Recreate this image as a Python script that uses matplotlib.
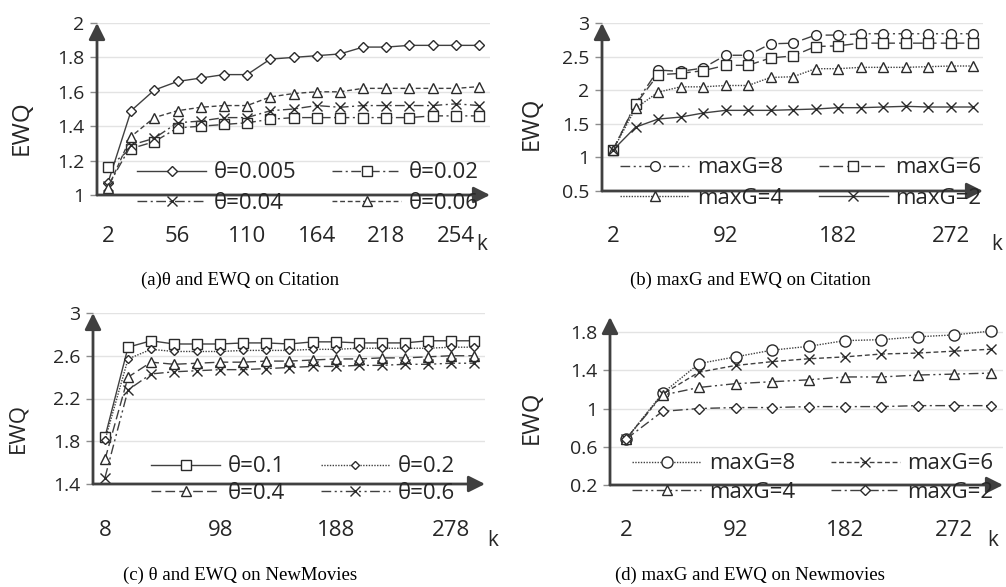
import numpy as np
import matplotlib
matplotlib.use('Agg')
import matplotlib.pyplot as plt

W, H = 1006, 587
SANS = ['Open Sans', 'DejaVu Sans']
SERIF = ['Liberation Serif', 'DejaVu Serif']

# ---------------- data ----------------
# (a) theta and EWQ on Citation (17 points)
a_ticklabels = ['2', '56', '110', '164', '218', '254']
a_labels = ['θ=0.005', 'θ=0.02', 'θ=0.04', 'θ=0.06']
a_t0005 = [1.07, 1.49, 1.61, 1.66, 1.68, 1.70, 1.70, 1.79, 1.80, 1.81, 1.82, 1.86, 1.86, 1.87, 1.87, 1.87, 1.87]
a_t002 = [1.16, 1.27, 1.31, 1.39, 1.40, 1.41, 1.42, 1.44, 1.45, 1.45, 1.45, 1.45, 1.45, 1.45, 1.46, 1.46, 1.46]
a_t004 = [1.05, 1.29, 1.33, 1.42, 1.43, 1.45, 1.45, 1.49, 1.50, 1.52, 1.51, 1.52, 1.52, 1.52, 1.52, 1.53, 1.52]
a_t006 = [1.04, 1.34, 1.45, 1.49, 1.51, 1.52, 1.52, 1.57, 1.59, 1.60, 1.60, 1.62, 1.62, 1.62, 1.62, 1.62, 1.63]

# (b) maxG and EWQ on Citation (17 points)
b_k = [2, 20, 38, 56, 74, 92, 110, 128, 146, 164, 182, 200, 218, 236, 254, 272, 290]
b_ticklabels = ['2', '92', '182', '272']
b_labels = ['maxG=8', 'maxG=6', 'maxG=4', 'maxG=2']
b_g8 = [1.11, 1.80, 2.30, 2.28, 2.33, 2.52, 2.52, 2.69, 2.70, 2.82, 2.82, 2.84, 2.84, 2.84, 2.84, 2.84, 2.84]
b_g6 = [1.11, 1.79, 2.23, 2.25, 2.29, 2.37, 2.37, 2.48, 2.51, 2.65, 2.66, 2.70, 2.70, 2.70, 2.70, 2.70, 2.70]
b_g4 = [1.11, 1.73, 1.97, 2.05, 2.05, 2.07, 2.07, 2.19, 2.20, 2.32, 2.32, 2.34, 2.34, 2.34, 2.35, 2.36, 2.36]
b_g2 = [1.11, 1.45, 1.57, 1.60, 1.66, 1.70, 1.70, 1.70, 1.71, 1.72, 1.74, 1.74, 1.75, 1.76, 1.75, 1.75, 1.75]

# (c) theta and EWQ on NewMovies (17 points)
c_k = [8, 26, 44, 62, 80, 98, 116, 134, 152, 170, 188, 206, 224, 242, 260, 278, 296]
c_ticklabels = ['8', '98', '188', '278']
c_labels = ['θ=0.1', 'θ=0.2', 'θ=0.4', 'θ=0.6']
c_t01 = [1.84, 2.68, 2.74, 2.71, 2.71, 2.71, 2.72, 2.72, 2.71, 2.73, 2.73, 2.72, 2.72, 2.72, 2.74, 2.74, 2.74]
c_t02 = [1.81, 2.57, 2.66, 2.64, 2.64, 2.64, 2.65, 2.65, 2.65, 2.66, 2.66, 2.67, 2.67, 2.67, 2.67, 2.68, 2.68]
c_t04 = [1.63, 2.40, 2.54, 2.52, 2.53, 2.54, 2.54, 2.55, 2.55, 2.56, 2.57, 2.57, 2.58, 2.58, 2.59, 2.60, 2.60]
c_t06 = [1.46, 2.28, 2.43, 2.45, 2.46, 2.47, 2.47, 2.48, 2.49, 2.50, 2.50, 2.51, 2.51, 2.52, 2.52, 2.53, 2.53]

# (d) maxG and EWQ on Newmovies (11 points)
d_k = [2, 32, 62, 92, 122, 152, 182, 212, 242, 272, 302]
d_ticklabels = ['2', '92', '182', '272']
d_labels = ['maxG=8', 'maxG=6', 'maxG=4', 'maxG=2']
d_g8 = [0.68, 1.16, 1.47, 1.54, 1.61, 1.65, 1.71, 1.72, 1.75, 1.77, 1.81]
d_g6 = [0.68, 1.15, 1.38, 1.45, 1.49, 1.52, 1.54, 1.57, 1.58, 1.60, 1.62]
d_g4 = [0.68, 1.14, 1.22, 1.26, 1.28, 1.30, 1.33, 1.33, 1.35, 1.36, 1.37]
d_g2 = [0.68, 0.97, 1.00, 1.01, 1.01, 1.02, 1.02, 1.02, 1.03, 1.03, 1.03]

captions = ['(a)θ and EWQ on Citation', '(b) maxG and EWQ on Citation',
            '(c) θ and EWQ on NewMovies', '(d) maxG and EWQ on Newmovies']

# ---------------- styles ----------------
LC = '#404040'
SOLID = '-'
DASHDOT = (0, (7, 2.5, 1.5, 2.5))
DASHDOTDOT = (0, (7, 2.5, 1.5, 2.5, 1.5, 2.5))
SHORTDASH = (0, (3.5, 2))
DOTTED = (0, (1, 1))
LONGDASH = (0, (7, 3))

fig = plt.figure(figsize=(W / 100, H / 100), dpi=100)


def rect_px(l, r, top, bot):
    return [l / W, 1 - bot / H, (r - l) / W, (bot - top) / H]


def panel(rect, xlim, ylim, yticks, ytl, series, labels, styles, tick_idx, tick_labels,
          tick_pad, leg_c, leg_sp, ylab_xy, ylab_size, k_xy, cap_xy, caption):
    ax = fig.add_axes(rect)
    n = len(series[0])
    x = np.arange(n)
    handles = []
    for ys, lab, (ls, mk, ms) in zip(series, labels, styles):
        h, = ax.plot(x, ys, linestyle=ls, color=LC, lw=1.0, marker=mk, markersize=ms,
                     markerfacecolor='white', markeredgecolor='#2a2a2a', markeredgewidth=1.0,
                     label=lab, zorder=3)
        handles.append(h)
    ax.set_xlim(*xlim)
    ax.set_ylim(*ylim)
    for s in ax.spines.values():
        s.set_visible(False)
    ax.set_yticks(yticks)
    ax.set_yticklabels(ytl, family=SANS, fontsize=14, color='#262626')
    ax.tick_params(axis='y', length=5, width=1, color='#8c8c8c', pad=4)
    for yv in yticks[1:]:
        ax.axhline(yv, color='#e3e3e3', lw=1.0, zorder=1)
    ax.set_xticks(tick_idx)
    ax.set_xticklabels(tick_labels, family=SANS, fontsize=16, color='#262626')
    ax.tick_params(axis='x', length=0, pad=tick_pad)
    ap = dict(arrowstyle='-|>,head_length=0.7,head_width=0.35', color=LC, lw=2.0,
              shrinkA=0, shrinkB=0, mutation_scale=14)
    ax.annotate('', xy=(0, 1.0), xytext=(0, 0), xycoords='axes fraction', arrowprops=ap, zorder=5)
    ax.annotate('', xy=(1.0, 0), xytext=(0, 0), xycoords='axes fraction', arrowprops=ap, zorder=5)
    order = [0, 2, 1, 3]
    leg = ax.legend([handles[i] for i in order], [labels[i] for i in order], ncol=2,
                    loc='center', bbox_to_anchor=(leg_c[0] / W, 1 - leg_c[1] / H),
                    bbox_transform=fig.transFigure, frameon=False,
                    prop=dict(family=SANS, size=16), handlelength=3.1, handletextpad=0.35,
                    columnspacing=1.6, labelspacing=leg_sp, numpoints=1)
    for t in leg.get_texts():
        t.set_color('#262626')
    fig.text(ylab_xy[0] / W, 1 - ylab_xy[1] / H, 'EWQ', rotation=90, ha='center', va='center',
             family=SANS, fontsize=ylab_size, color='#262626')
    fig.text(k_xy[0] / W, 1 - k_xy[1] / H, 'k', ha='center', va='center',
             family=SANS, fontsize=15, color='#262626')
    fig.text(cap_xy[0] / W, 1 - cap_xy[1] / H, caption, ha='center', va='center',
             family=SERIF, fontsize=13.5, color='black')
    return ax


# (a)
panel(rect_px(97, 490, 23, 195), (-0.47, 16.47), (1, 2),
      [1, 1.2, 1.4, 1.6, 1.8, 2], ['1', '1.2', '1.4', '1.6', '1.8', '2'],
      [a_t0005, a_t002, a_t004, a_t006], a_labels,
      [(SOLID, 'D', 5), (DASHDOT, 's', 7.5), (DASHDOT, 'x', 7), (SHORTDASH, '^', 6.5)],
      list(range(0, 17, 3)), a_ticklabels, 22, (308, 188), 0.42, (22, 128), 17.5,
      (482, 245), (240, 280), captions[0])

# (b)
b_idx = [b_k.index(int(t)) for t in b_ticklabels]
panel(rect_px(602, 983, 23, 191), (-0.49, 16.44), (0.5, 3),
      [0.5, 1, 1.5, 2, 2.5, 3], ['0.5', '1', '1.5', '2', '2.5', '3'],
      [b_g8, b_g6, b_g4, b_g2], b_labels,
      [(DASHDOTDOT, 'o', 7), (LONGDASH, 's', 7.5), (DOTTED, '^', 7), (SOLID, 'x', 7)],
      b_idx, b_ticklabels, 25, (801, 183), 0.42, (532, 123), 17,
      (997, 245), (750, 280), captions[1])

# (c)
c_idx = [c_k.index(int(t)) for t in c_ticklabels]
panel(rect_px(93, 485, 313, 484), (-0.52, 16.48), (1.4, 3),
      [1.4, 1.8, 2.2, 2.6, 3], ['1.4', '1.8', '2.2', '2.6', '3'],
      [c_t01, c_t02, c_t04, c_t06], c_labels,
      [(SOLID, 's', 7.5), (DOTTED, 'D', 4.5), (LONGDASH, '^', 6.5), (DASHDOTDOT, 'x', 7)],
      c_idx, c_ticklabels, 26, (303, 480), 0.24, (18, 428), 16,
      (493, 540), (240, 575), captions[2])

# (d)
d_idx = [d_k.index(int(t)) for t in d_ticklabels]
panel(rect_px(610, 1003, 317, 485), (-0.44, 10.33), (0.2, 1.957),
      [0.2, 0.6, 1, 1.4, 1.8], ['0.2', '0.6', '1', '1.4', '1.8'],
      [d_g8, d_g6, d_g4, d_g2], d_labels,
      [(DOTTED, 'o', 8), (SHORTDASH, 'x', 7), (DASHDOTDOT, '^', 7), (DASHDOT, 'D', 5.5)],
      d_idx, d_ticklabels, 25, (813, 478), 0.33, (532, 417), 17,
      (993, 540), (750, 575), captions[3])

fig.savefig('out.png', dpi=100)
